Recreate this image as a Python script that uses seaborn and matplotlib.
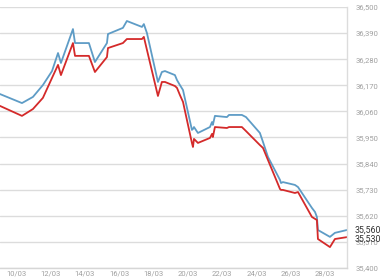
import matplotlib
matplotlib.use("Agg")
import matplotlib.pyplot as plt
import seaborn as sns
import pandas as pd
from matplotlib.ticker import FuncFormatter, FixedLocator

# x positions as day-of-March (fractional)
days = [9.07, 10.35, 10.99, 11.57, 12.10, 12.45, 12.62, 13.32, 13.44, 14.25,
        14.60, 15.30, 15.36, 16.23, 16.46, 17.34, 17.45, 17.63, 18.27, 18.50,
        18.68, 19.26, 19.38, 19.55, 19.73, 20.25, 20.31, 20.37, 20.60, 21.30,
        21.42, 21.47, 21.59, 22.29, 22.41, 23.16, 23.40, 24.21, 24.39, 24.68,
        25.38, 25.44, 25.55, 26.25, 26.43, 27.24, 27.42, 27.53, 27.59, 28.29,
        28.58, 29.28]

blue_values = [36133, 36095, 36121, 36171, 36230, 36306, 36264, 36407, 36348, 36348,
               36268, 36348, 36386, 36412, 36441, 36416, 36428, 36390, 36184, 36226,
               36230, 36213, 36192, 36171, 36150, 35982, 35986, 35994, 35969, 35994,
               36015, 36003, 36041, 36036, 36045, 36045, 36036, 35969, 35931, 35868,
               35771, 35758, 35762, 35750, 35741, 35653, 35636, 35615, 35560, 35531,
               35548, 35560]

red_values = [36083, 36041, 36070, 36117, 36201, 36256, 36213, 36348, 36294, 36294,
              36226, 36289, 36327, 36348, 36365, 36365, 36374, 36319, 36125, 36184,
              36184, 36167, 36159, 36129, 36100, 35927, 35910, 35944, 35927, 35948,
              35965, 35952, 35994, 35990, 35994, 35994, 35977, 35918, 35906, 35855,
              35733, 35729, 35729, 35716, 35720, 35615, 35607, 35602, 35522, 35488,
              35522, 35530]

x_tick_days = [10, 12, 14, 16, 18, 20, 22, 24, 26, 28]
x_tick_labels = ["10/03", "12/03", "14/03", "16/03", "18/03", "20/03",
                 "22/03", "24/03", "26/03", "28/03"]
y_ticks = [35400, 35510, 35620, 35730, 35840, 35950, 36060, 36170, 36280, 36390, 36500]

df = pd.concat([
    pd.DataFrame({"day": days, "value": blue_values, "series": "blue"}),
    pd.DataFrame({"day": days, "value": red_values, "series": "red"}),
])

sns.set_theme(style="white")
plt.rcParams["font.family"] = ["Roboto", "DejaVu Sans"]

fig = plt.figure(figsize=(3.8, 2.8), dpi=100)
ax = fig.add_axes([0.0, 0.043, 0.913, 0.932])

sns.lineplot(data=df, x="day", y="value", hue="series",
             palette={"blue": "#5e9cc6", "red": "#d42a2a"},
             linewidth=1.3, legend=False, ax=ax, sort=False, estimator=None)

ax.set_xlim(days[0], days[-1])
ax.set_ylim(35400, 36500)
ax.set_xlabel("")
ax.set_ylabel("")

ax.yaxis.set_major_locator(FixedLocator(y_ticks))
ax.yaxis.set_major_formatter(FuncFormatter(lambda v, p: f"{int(round(v)):,}"))
ax.yaxis.tick_right()
ax.set_xticks(x_tick_days)
ax.set_xticklabels(x_tick_labels)

ax.grid(axis="y", color="#dcdcdc", linewidth=1.0)
ax.grid(axis="x", visible=False)
ax.set_axisbelow(True)

for s in ["left", "top"]:
    ax.spines[s].set_visible(False)
ax.spines["right"].set_color("#dcdcdc")
ax.spines["right"].set_linewidth(1.0)
ax.spines["bottom"].set_color("#d6d6d6")
ax.spines["bottom"].set_linewidth(1.0)

ax.tick_params(axis="y", length=0, pad=6, labelsize=5.5, labelcolor="#a0a0a0")
ax.tick_params(axis="x", length=0, pad=2, labelsize=5.5, labelcolor="#a0a0a0")

# last value labels
ax.text(1.0, blue_values[-1], f"{blue_values[-1]:,}", transform=ax.get_yaxis_transform(),
        ha="left", va="center", fontsize=6.3, color="#333333",
        bbox=dict(facecolor="none", edgecolor="none", pad=0)).set_x(1.022)
ax.text(1.022, red_values[-1] - 8, f"{red_values[-1]:,}", transform=ax.get_yaxis_transform(),
        ha="left", va="center", fontsize=6.3, color="#333333")

fig.savefig("out.png", dpi=100, facecolor="white")
